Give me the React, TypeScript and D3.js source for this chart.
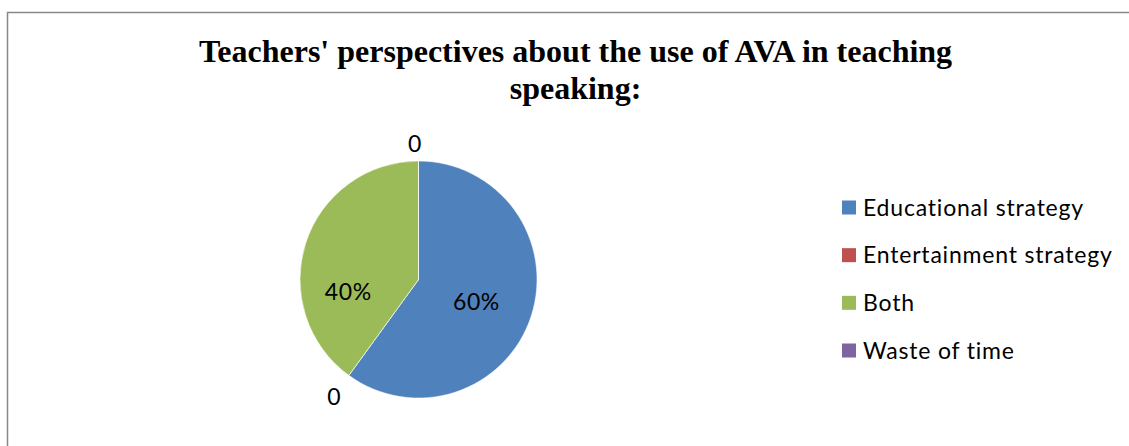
import React from "react";
import * as d3 from "d3";

const categories = ["Educational strategy", "Entertainment strategy", "Both", "Waste of time"];
const values = [60, 0, 40, 0];
const labels = ["60%", "0", "40%", "0"];
const colors = ["#4F81BD", "#C0504D", "#9BBB59", "#8064A2"];
const titleLines = ["Teachers' perspectives about the use of AVA in teaching", "speaking:"];

const W = 1129;
const H = 446;
const cx = 418.5;
const cy = 279.5;
const R = 118.5;

export default function App() {
  const pie = d3.pie<number>().sort(null).value((d) => d);
  const arcs = pie(values);
  const arc = d3.arc<d3.PieArcDatum<number>>().innerRadius(0).outerRadius(R);
  const labelFont = "Lato, 'Open Sans', sans-serif";

  // label placement tweaks (angle shift in degrees, radius factor)
  const angleShift = [2, 0, -27, -1.5];
  const radiusFactor = [0.52, 1.21, 0.6, 1.15];

  const labelPos = (a: d3.PieArcDatum<number>, i: number) => {
    const mid = (a.startAngle + a.endAngle) / 2 + (angleShift[i] * Math.PI) / 180;
    const r = R * radiusFactor[i];
    return [cx + Math.sin(mid) * r, cy - Math.cos(mid) * r];
  };

  const legendY = d3.scalePoint<string>().domain(categories).range([207.5, 350.5]);

  return (
    <svg width={W} height={H} style={{ position: "absolute", left: 0, top: 0, background: "#fff" }}>
      <rect x={7.5} y={12.5} width={W + 20} height={H + 20} fill="#fff" stroke="#888" strokeWidth={1.5} />
      <g fontFamily="'Liberation Serif', 'Times New Roman', serif" fontWeight="bold" fontSize={32} textAnchor="middle">
        {titleLines.map((t, i) => (
          <text key={i} x={575.5} y={62 + i * 37}>{t}</text>
        ))}
      </g>
      <g transform={`translate(${cx},${cy})`}>
        {arcs.map((a, i) => (
          <path key={i} d={arc(a) || ""} fill={colors[i]} stroke="#fff" strokeWidth={0.5} />
        ))}
      </g>
      <g fontFamily={labelFont} fontSize={23} letterSpacing={0.6} textAnchor="middle" fill="#000">
        {arcs.map((a, i) => {
          const [x, y] = labelPos(a, i);
          return (
            <text key={i} x={x} y={y} dominantBaseline="central">{labels[i]}</text>
          );
        })}
      </g>
      <g fontFamily={labelFont} fontSize={23} letterSpacing={0.8} fill="#000">
        {categories.map((c, i) => {
          const y = legendY(c) as number;
          return (
            <g key={c}>
              <rect x={842} y={y - 7} width={14} height={14} fill={colors[i]} />
              <text x={863} y={y - 1} dominantBaseline="central">{c}</text>
            </g>
          );
        })}
      </g>
    </svg>
  );
}
